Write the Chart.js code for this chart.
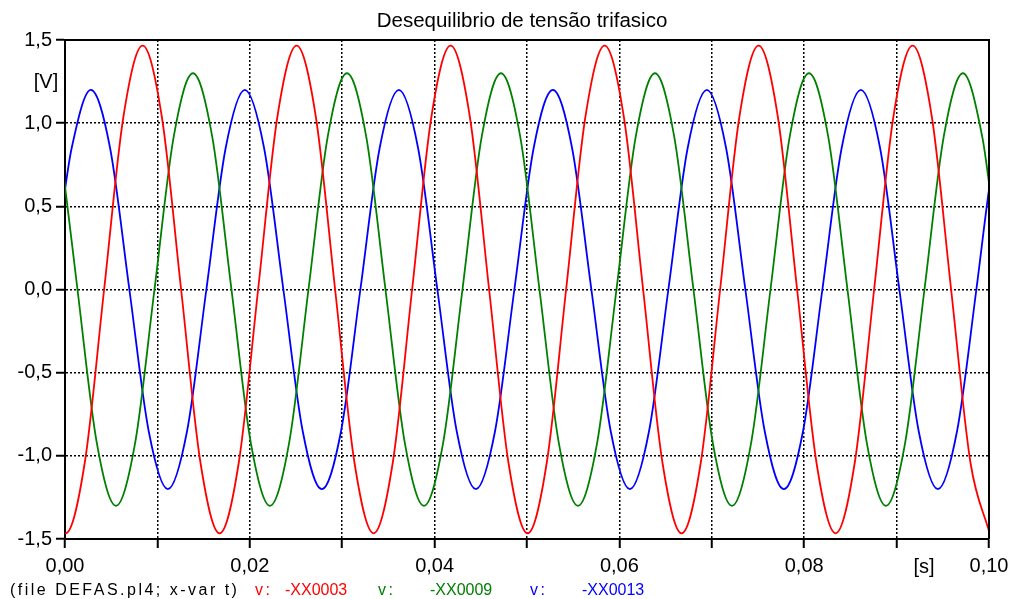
<!DOCTYPE html>
<html>
<head>
<meta charset="utf-8">
<title>Desequilibrio de tensão trifasico</title>
<script src="https://cdn.jsdelivr.net/npm/chart.js@4.4.1/dist/chart.umd.min.js"></script>
<style>
  html, body { margin: 0; padding: 0; background: #fff; }
  #wrap { width: 1010px; height: 599px; }
</style>
</head>
<body>
<div id="wrap"><canvas id="mycanvas" width="1010" height="599"></canvas></div>
<script>
// time [s] / voltage [V] samples for the three phases (peaks, troughs, zero crossings and the points in between)
var redTime = [-0.002017, 0.000067, 0.002150, 0.004233, 0.006317, 0.008400, 0.010483, 0.012567, 0.014650, 0.016733,
  0.018817, 0.020900, 0.022983, 0.025067, 0.027150, 0.029233, 0.031317, 0.033400, 0.035483, 0.037567,
  0.039650, 0.041733, 0.043817, 0.045900, 0.047983, 0.050067, 0.052150, 0.054233, 0.056317, 0.058400,
  0.060483, 0.062567, 0.064650, 0.066733, 0.068817, 0.070900, 0.072983, 0.075067, 0.077150, 0.079233,
  0.081317, 0.083400, 0.085483, 0.087567, 0.089650, 0.091733, 0.093817, 0.095900, 0.097983, 0.100067];
var redVolt = [-1.037, -1.466, -1.037, 0, 1.037, 1.466, 1.037, 0, -1.037, -1.466,
  -1.037, 0, 1.037, 1.466, 1.037, 0, -1.037, -1.466, -1.037, 0,
  1.037, 1.466, 1.037, 0, -1.037, -1.466, -1.037, 0, 1.037, 1.466,
  1.037, 0, -1.037, -1.466, -1.037, 0, 1.037, 1.466, 1.037, 0,
  -1.037, -1.466, -1.037, 0, 1.037, 1.466, 1.037, 0, -1.037, -1.466];

var greenTime = [-0.000733, 0, 0.001350, 0.003433, 0.005517, 0.007600, 0.009683, 0.011767, 0.013850, 0.015933, 0.018017,
  0.020100, 0.022183, 0.024267, 0.026350, 0.028433, 0.030517, 0.032600, 0.034683, 0.036767, 0.038850,
  0.040933, 0.043017, 0.045100, 0.047183, 0.049267, 0.051350, 0.053433, 0.055517, 0.057600, 0.059683,
  0.061767, 0.063850, 0.065933, 0.068017, 0.070100, 0.072183, 0.074267, 0.076350, 0.078433, 0.080517,
  0.082600, 0.084683, 0.086767, 0.088850, 0.090933, 0.093017, 0.095100, 0.097183, 0.099267, 0.1, 0.101350];
var greenVolt = [0.919, 0.62, 0, -0.919, -1.30, -0.919, 0, 0.919, 1.30, 0.919, 0,
  -0.919, -1.30, -0.919, 0, 0.919, 1.30, 0.919, 0, -0.919, -1.30,
  -0.919, 0, 0.919, 1.30, 0.919, 0, -0.919, -1.30, -0.919, 0,
  0.919, 1.30, 0.919, 0, -0.919, -1.30, -0.919, 0, 0.919, 1.30,
  0.919, 0, -0.919, -1.30, -0.919, 0, 0.919, 1.30, 0.919, 0.64, 0];

var blueTime = [-0.001367, 0, 0.000717, 0.002800, 0.004883, 0.006967, 0.009050, 0.011133, 0.013217, 0.015300, 0.017383,
  0.019467, 0.021550, 0.023633, 0.025717, 0.027800, 0.029883, 0.031967, 0.034050, 0.036133, 0.038217,
  0.040300, 0.042383, 0.044467, 0.046550, 0.048633, 0.050717, 0.052800, 0.054883, 0.056967, 0.059050,
  0.061133, 0.063217, 0.065300, 0.067383, 0.069467, 0.071550, 0.073633, 0.075717, 0.077800, 0.079883,
  0.081967, 0.084050, 0.086133, 0.088217, 0.090300, 0.092383, 0.094467, 0.096550, 0.098633, 0.1, 0.100717];
var blueVolt = [0, 0.60, 0.849, 1.20, 0.849, 0, -0.849, -1.20, -0.849, 0, 0.849,
  1.20, 0.849, 0, -0.849, -1.20, -0.849, 0, 0.849, 1.20, 0.849,
  0, -0.849, -1.20, -0.849, 0, 0.849, 1.20, 0.849, 0, -0.849,
  -1.20, -0.849, 0, 0.849, 1.20, 0.849, 0, -0.849, -1.20, -0.849,
  0, 0.849, 1.20, 0.849, 0, -0.849, -1.20, -0.849, 0, 0.60, 0.849];

var seriesNames = ['-XX0003', '-XX0009', '-XX0013'];
var seriesColors = ['#ff0000', '#008000', '#0000ff'];
var chartTitle = 'Desequilibrio de tensão trifasico';
var fileLabel = '(file DEFAS.pl4; x-var t)';

var FONT = '"Liberation Sans", Arial, Helvetica, sans-serif';

function toPoints(t, v) {
  var pts = [];
  for (var i = 0; i < t.length; i++) pts.push({ x: t[i], y: v[i] });
  return pts;
}

// draw text stretched to a given width using letter spacing
function spreadText(ctx, text, x, y, width) {
  ctx.letterSpacing = '0px';
  var w = ctx.measureText(text).width;
  var extra = (width - w) / Math.max(text.length - 1, 1);
  if (extra > 0) ctx.letterSpacing = extra.toFixed(2) + 'px';
  ctx.fillText(text, x, y);
  ctx.letterSpacing = '0px';
}

// title, unit labels, frame and file/variable footer
var decorations = {
  id: 'decorations',
  afterDraw: function(chart) {
    var ctx = chart.ctx;
    var a = chart.chartArea;
    ctx.save();
    // top / right frame
    ctx.strokeStyle = '#000';
    ctx.lineWidth = 2;
    ctx.beginPath();
    ctx.moveTo(a.left, a.top);
    ctx.lineTo(a.right, a.top);
    ctx.lineTo(a.right, a.bottom);
    ctx.stroke();

    ctx.fillStyle = '#000';
    ctx.textBaseline = 'middle';
    ctx.textAlign = 'center';
    ctx.font = '20.5px ' + FONT;
    ctx.fillText(chartTitle, 522, 21);

    ctx.font = '20px ' + FONT;
    ctx.fillText('[V]', 46, 82);
    ctx.fillText('[s]', 924, 567);

    // footer
    ctx.textAlign = 'left';
    ctx.font = '16px ' + FONT;
    ctx.fillStyle = '#000';
    spreadText(ctx, fileLabel, 10, 591, 227);
    var vx = [255, 378, 530];
    var nx = [285, 430, 582];
    for (var i = 0; i < seriesNames.length; i++) {
      ctx.fillStyle = seriesColors[i];
      spreadText(ctx, 'v:', vx[i], 591, 15);
      ctx.fillText(seriesNames[i], nx[i], 591);
    }
    ctx.restore();
  }
};

var ctx = document.getElementById('mycanvas');

var lineGraph = new Chart(ctx, {
  type: 'line',
  data: {
    datasets: [
      { label: seriesNames[0], data: toPoints(redTime, redVolt), borderColor: seriesColors[0] },
      { label: seriesNames[1], data: toPoints(greenTime, greenVolt), borderColor: seriesColors[1] },
      { label: seriesNames[2], data: toPoints(blueTime, blueVolt), borderColor: seriesColors[2] }
    ]
  },
  options: {
    responsive: false,
    animation: false,
    devicePixelRatio: 1,
    layout: { padding: { top: 40, right: 21, left: 0, bottom: 0 } },
    elements: {
      line: { borderWidth: 1.8, cubicInterpolationMode: 'monotone', fill: false },
      point: { radius: 0, hoverRadius: 0 }
    },
    plugins: {
      legend: { display: false },
      title: { display: false },
      tooltip: { enabled: false }
    },
    scales: {
      x: {
        type: 'linear',
        min: 0,
        max: 0.1,
        afterFit: function(scale) {
          scale.height = 60;
          // let the last label hang into the right margin
          scale.paddingLeft = 0;
          scale.paddingRight = 0;
        },
        grid: {
          color: '#000',
          lineWidth: 1.5,
          tickLength: 9,
          tickColor: '#000',
          tickWidth: 2
        },
        border: { display: true, color: '#000', width: 2, dash: [2, 2] },
        ticks: {
          stepSize: 0.01,
          autoSkip: false,
          maxRotation: 0,
          padding: 6,
          color: '#000',
          font: { family: FONT, size: 20 },
          callback: function(v) {
            var n = Math.round(v * 100);
            return n % 2 === 0 ? (n / 100).toFixed(2).replace('.', ',') : '';
          }
        }
      },
      y: {
        min: -1.5,
        max: 1.5,
        afterFit: function(scale) { scale.width = 65; },
        grid: {
          color: '#000',
          lineWidth: 1.5,
          tickLength: 9,
          tickColor: '#000',
          tickWidth: 2
        },
        border: { display: true, color: '#000', width: 2, dash: [2, 2] },
        ticks: {
          stepSize: 0.5,
          padding: 4,
          color: '#000',
          font: { family: FONT, size: 20 },
          callback: function(v) {
            if (Math.abs(v) < 1e-9) return '0,0';
            return v.toFixed(1).replace('.', ',');
          }
        }
      }
    }
  },
  plugins: [decorations]
});
</script>
</body>
</html>
